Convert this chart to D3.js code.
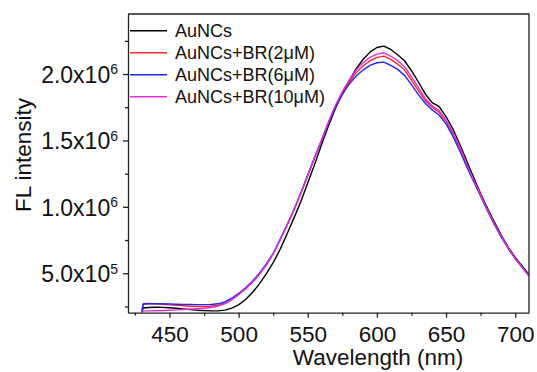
<!DOCTYPE html>
<html>
<head>
<meta charset="utf-8">
<script src="https://cdn.jsdelivr.net/npm/d3@7/dist/d3.min.js"></script>
<style>
  html, body { margin: 0; padding: 0; background: #fff; }
  svg { display: block; font-family: "Liberation Sans", Arial, sans-serif; }
  .axis path, .axis line { stroke: #222; stroke-width: 1.3; }
  .axis text { fill: #111; }
</style>
</head>
<body>
<div id="chart"></div>
<script>
// wavelength (nm)
var wavelength = [430,431,435,440,445,450,455,460,465,470,475,480,485,490,495,500,505,510,515,520,
                  525,530,535,540,545,550,555,560,565,570,575,580,585,590,595,600,605,610,615,620,
                  625,630,635,640,645,650,655,660,665,670,675,680,685,690,695,700,705,710];

// FL intensity, one list per sample
var aunc = [2.05e5,2.38e5,2.42e5,2.44e5,2.43e5,2.40e5,2.37e5,2.32e5,2.27e5,2.22e5,2.19e5,2.17e5,2.17e5,2.22e5,2.37e5,2.62e5,3.02e5,3.55e5,4.20e5,4.95e5,
            5.80e5,6.80e5,7.95e5,9.15e5,1.04e6,1.18e6,1.32e6,1.47e6,1.61e6,1.74e6,1.855e6,1.95e6,2.04e6,2.11e6,2.165e6,2.20e6,2.21e6,2.185e6,2.145e6,2.10e6,
            2.025e6,1.94e6,1.85e6,1.785e6,1.755e6,1.68e6,1.585e6,1.47e6,1.345e6,1.22e6,1.10e6,9.9e5,8.85e5,7.85e5,6.95e5,6.2e5,5.55e5,4.9e5];
var br2 = [2.05e5,2.70e5,2.72e5,2.70e5,2.66e5,2.62e5,2.58e5,2.55e5,2.52e5,2.50e5,2.50e5,2.52e5,2.60e5,2.75e5,3.00e5,3.40e5,3.82e5,4.32e5,4.92e5,5.62e5,
           6.45e5,7.50e5,8.60e5,9.75e5,1.10e6,1.235e6,1.37e6,1.50e6,1.635e6,1.755e6,1.855e6,1.94e6,2.01e6,2.06e6,2.10e6,2.125e6,2.135e6,2.11e6,2.075e6,2.03e6,
           1.955e6,1.875e6,1.80e6,1.75e6,1.71e6,1.645e6,1.55e6,1.44e6,1.315e6,1.20e6,1.09e6,9.75e5,8.7e5,7.75e5,6.9e5,6.12e5,5.47e5,4.82e5];
var br6 = [2.05e5,2.68e5,2.70e5,2.71e5,2.70e5,2.68e5,2.67e5,2.66e5,2.65e5,2.64e5,2.64e5,2.65e5,2.70e5,2.85e5,3.12e5,3.48e5,3.90e5,4.40e5,5.00e5,5.70e5,
           6.50e5,7.55e5,8.65e5,9.80e5,1.105e6,1.24e6,1.375e6,1.50e6,1.635e6,1.75e6,1.845e6,1.925e6,1.985e6,2.03e6,2.065e6,2.085e6,2.09e6,2.065e6,2.035e6,1.99e6,
           1.92e6,1.845e6,1.78e6,1.73e6,1.69e6,1.625e6,1.53e6,1.42e6,1.30e6,1.19e6,1.08e6,9.7e5,8.65e5,7.7e5,6.85e5,6.1e5,5.45e5,4.8e5];
var br10 = [2.05e5,2.15e5,2.17e5,2.18e5,2.20e5,2.22e5,2.24e5,2.27e5,2.30e5,2.33e5,2.37e5,2.42e5,2.52e5,2.70e5,3.00e5,3.40e5,3.83e5,4.33e5,4.93e5,5.63e5,
            6.47e5,7.52e5,8.62e5,9.78e5,1.102e6,1.238e6,1.375e6,1.505e6,1.64e6,1.765e6,1.87e6,1.955e6,2.03e6,2.085e6,2.125e6,2.15e6,2.16e6,2.135e6,2.10e6,2.055e6,
            1.98e6,1.90e6,1.815e6,1.76e6,1.725e6,1.655e6,1.56e6,1.45e6,1.32e6,1.20e6,1.09e6,9.75e5,8.7e5,7.75e5,6.88e5,6.1e5,5.45e5,4.78e5];

var seriesNames = ["AuNCs", "AuNCs+BR(2\u03bcM)", "AuNCs+BR(6\u03bcM)", "AuNCs+BR(10\u03bcM)"];
var seriesColors = ["#000000", "#f22a2a", "#2525ee", "#e030e0"];
var seriesValues = [aunc, br2, br6, br10];

// tick values
var xMajor = [450, 500, 550, 600, 650, 700];
var xMinor = [425, 475, 525, 575, 625, 675];
var yMajor = [5e5, 1e6, 1.5e6, 2e6];
var yMinor = [2.5e5, 7.5e5, 1.25e6, 1.75e6, 2.25e6];

// size setup
var width = 537, height = 372;
var margins = {top: 14, right: 8, bottom: 59.3, left: 128};
var chartWidth = width - margins.left - margins.right;
var chartHeight = height - margins.top - margins.bottom;

var svg = d3.select("#chart").append("svg")
    .attr("width", width)
    .attr("height", height);

var cht = svg.append("g")
    .attr("transform", "translate(" + margins.left + "," + margins.top + ")");

// scales
var xScale = d3.scaleLinear().domain([420, 710]).range([0, chartWidth]);
var yScale = d3.scaleLinear().domain([2.03e5, 2.452e6]).range([chartHeight, 0]);

cht.append("clipPath").attr("id", "plotClip")
  .append("rect")
    .attr("width", chartWidth)
    .attr("height", chartHeight);

// lines
var line = d3.line()
    .x(function(d){ return xScale(d[0]); })
    .y(function(d){ return yScale(d[1]); });

seriesValues.forEach(function(vals, i){
    var pts = wavelength.map(function(w, j){ return [w, vals[j]]; });
    cht.append("path")
        .datum(pts)
        .attr("clip-path", "url(#plotClip)")
        .attr("fill", "none")
        .attr("stroke", seriesColors[i])
        .attr("stroke-width", 1.4)
        .attr("stroke-linejoin", "round")
        .attr("d", line);
});

// frame (top / right)
cht.append("path")
    .attr("d", "M0,0H" + chartWidth + "V" + chartHeight)
    .attr("fill", "none")
    .attr("stroke", "#222")
    .attr("stroke-width", 1.3);

// x axis
var axiX = cht.append("g")
    .attr("class", "axis")
    .attr("transform", "translate(0," + chartHeight + ")")
    .call(d3.axisBottom(xScale).tickValues(xMajor).tickSize(5).tickPadding(8.5).tickSizeOuter(0));
axiX.selectAll("text").attr("font-size", 22.5);

cht.append("g")
    .attr("class", "axis")
    .attr("transform", "translate(0," + chartHeight + ")")
    .call(d3.axisBottom(xScale).tickValues(xMinor).tickSize(3).tickFormat("").tickSizeOuter(0))
    .select(".domain").remove();

// y axis
var axiY = cht.append("g")
    .attr("class", "axis")
    .call(d3.axisLeft(yScale).tickValues(yMajor).tickSize(5).tickPadding(5).tickSizeOuter(0));

axiY.selectAll(".tick text").each(function(d){
    var exp = Math.floor(Math.log10(d));
    var mant = (d / Math.pow(10, exp)).toFixed(1);
    var t = d3.select(this).text("").attr("font-size", 23).attr("dy", "0.36em");
    t.append("tspan").text(mant + "x10");
    t.append("tspan").attr("font-size", 14).attr("dy", "-0.6em").text(exp);
});

cht.append("g")
    .attr("class", "axis")
    .call(d3.axisLeft(yScale).tickValues(yMinor).tickSize(3).tickFormat("").tickSizeOuter(0))
    .select(".domain").remove();

// axis titles
svg.append("text")
    .attr("x", 378)
    .attr("y", 365)
    .attr("text-anchor", "middle")
    .attr("font-size", 22.5)
    .attr("fill", "#111")
    .text("Wavelength (nm)");

svg.append("text")
    .attr("transform", "translate(31,155) rotate(-90)")
    .attr("text-anchor", "middle")
    .attr("font-size", 22.5)
    .attr("fill", "#111")
    .text("FL intensity");

// legend
var legend = svg.append("g").attr("transform", "translate(130,30.7)");
seriesNames.forEach(function(name, i){
    var row = legend.append("g").attr("transform", "translate(0," + (i * 22) + ")");
    row.append("line")
        .attr("x1", 0).attr("x2", 37)
        .attr("stroke", seriesColors[i])
        .attr("stroke-width", 1.5);
    row.append("text")
        .attr("x", 45)
        .attr("dy", "0.36em")
        .attr("font-size", 18)
        .attr("fill", "#111")
        .text(name);
});
</script>
</body>
</html>
